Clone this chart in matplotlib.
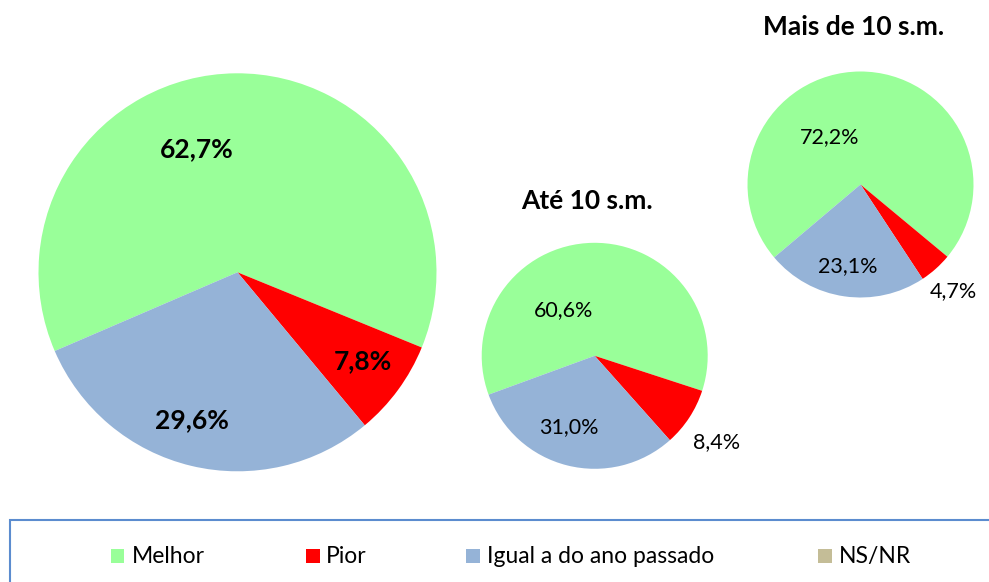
import matplotlib
matplotlib.use("Agg")
import matplotlib.pyplot as plt
from matplotlib.patches import Rectangle

# data
categories = ["Melhor", "Pior", "Igual a do ano passado", "NS/NR"]
total = [62.7, 7.8, 29.6, 0.0]
ate_10 = [60.6, 8.4, 31.0, 0.0]
mais_10 = [72.2, 4.7, 23.1, 0.0]
titles = ["", "Até 10 s.m.", "Mais de 10 s.m."]

colors = ["#99FF99", "#FF0000", "#95B3D7", "#C4BD97"]

W, H = 989, 582
plt.rcParams['font.family'] = ['Lato', 'DejaVu Sans']
fig = plt.figure(figsize=(W / 100, H / 100), dpi=100)


def fx(px):
    return px / W


def fy(py):
    return 1 - py / H


# layout: pie center (px), radius (px), start angle, label offsets (in radii, baseline)
pies = [
    dict(vals=total, cx=237.5, cy=272.3, r=199, start=203.3, bold=True, size=19,
         offs=[(-0.204, 0.579), (0.628, -0.487), (-0.230, -0.782)]),
    dict(vals=ate_10, cx=594.7, cy=355.8, r=113, start=200.1, bold=False, size=15.5,
         offs=[(-0.278, 0.352), (1.080, -0.819), (-0.229, -0.680)]),
    dict(vals=mais_10, cx=860.5, cy=184.5, r=113, start=220.2, bold=False, size=15.5,
         offs=[(-0.277, 0.365), (0.820, -0.993), (-0.111, -0.772)]),
]
title_pos = [None, (586.8, 209.3), (853.8, 35.0)]

for p, title, tpos in zip(pies, titles, title_pos):
    r = p["r"]
    ax = fig.add_axes([fx(p["cx"] - r), fy(p["cy"] + r), 2 * r / W, 2 * r / H])
    ax.pie(p["vals"], colors=colors, startangle=p["start"], counterclock=False,
           radius=1, wedgeprops=dict(linewidth=0))
    ax.set_xlim(-1, 1)
    ax.set_ylim(-1, 1)
    ax.set_aspect("auto")
    for v, (dx, dy) in zip(p["vals"][:3], p["offs"]):
        ax.text(dx, dy, f"{v:.1f}%".replace(".", ","), ha="center", va="baseline",
                fontsize=p["size"], fontweight="bold" if p["bold"] else "normal",
                color="black")
    if tpos:
        fig.text(fx(tpos[0]), fy(tpos[1]), title, ha="center", va="baseline",
                 fontsize=19, fontweight="bold")

# legend box
fig.patches.append(Rectangle((fx(9.5), fy(600)), fx(1000), (600 - 520.5) / H,
                             transform=fig.transFigure, fill=False,
                             edgecolor="#5B8CCF", linewidth=1.5))
leg_sq_x = [111, 306, 466, 818]
leg_txt_x = [132, 326, 487, 839]
for c, name, sx, tx in zip(colors, categories, leg_sq_x, leg_txt_x):
    fig.patches.append(Rectangle((fx(sx), fy(562.5)), 13.5 / W, 13.5 / H,
                                 transform=fig.transFigure, facecolor=c,
                                 edgecolor="none"))
    fig.text(fx(tx), fy(563.3), name, ha="left", va="baseline", fontsize=16.5)

fig.savefig("out.png", dpi=100)
